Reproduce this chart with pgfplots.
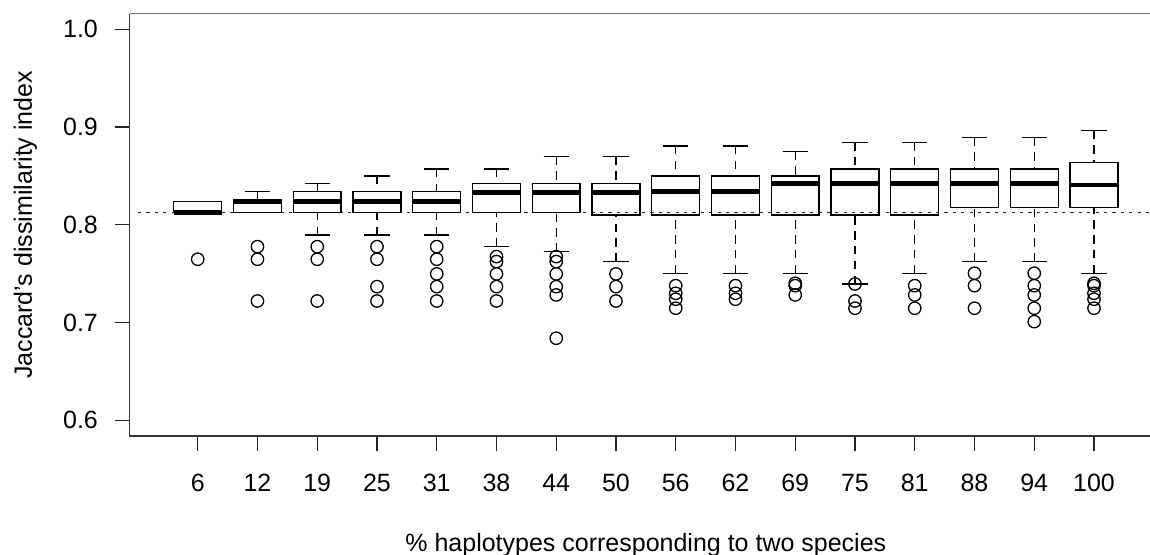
\documentclass[border=0pt]{standalone}
\usepackage{fontspec}
\setmainfont{Liberation Sans}
\usepackage{pgfplots}
\usepgfplotslibrary{statistics}
\pgfplotsset{compat=1.18}
\newcommand{\fsz}{\fontsize{12.5}{15}\selectfont}
\begin{document}
\begin{tikzpicture}[font=\fsz]
\useasboundingbox (0,0) rectangle (575pt,277.5pt);
\begin{axis}[
  at={(64.8pt,59.55pt)}, anchor=south west,
  scale only axis, width=516.25pt, height=211.15pt,
  xmin=-0.14, xmax=17.14, ymin=0.584, ymax=1.016,
  clip=false,
  axis line style={draw=none},
  tick pos=left, tick align=outside,
  major tick length=7.5pt,
  every tick/.style={black!85, line width=0.65pt},
  xtick={1,...,16},
  xticklabels={6,12,19,25,31,38,44,50,56,62,69,75,81,88,94,100},
  ytick={0.6,0.7,0.8,0.9,1.0},
  yticklabels={0.6,0.7,0.8,0.9,1.0},
  /pgf/number format/assume math mode=true,
  xticklabel style={font=\fsz, anchor=base, inner sep=0pt, yshift=-20.5pt},
  yticklabel style={font=\fsz, anchor=east, inner sep=0pt, xshift=-8.15pt},
  xlabel={\% haplotypes corresponding to two species},
  ylabel={Jaccard's dissimilarity index},
  every axis x label/.style={at={(axis description cs:0.5,0)}, anchor=base, yshift=-57.65pt, font=\fsz},
  every axis y label/.style={at={(axis description cs:0,0.5)}, xshift=-48.8pt, rotate=90, anchor=base, font=\fsz},
  bp/.style={
    black, line width=0.65pt, solid,
    mark=o, mark size=3.1pt, mark options={solid, line width=0.65pt},
    boxplot/draw direction=y,
    boxplot/box extend=0.8,
    boxplot/whisker extend=0.42,
    boxplot/every median/.style={line width=2.3pt},
    boxplot/draw/lower whisker/.code={%
      \draw[dash pattern=on 4.2pt off 3.2pt]
        (boxplot cs:\pgfplotsboxplotvalue{lower whisker}) --
        (boxplot cs:\pgfplotsboxplotvalue{lower quartile});
      \draw (boxplot whisker cs:\pgfplotsboxplotvalue{lower whisker},0) --
        (boxplot whisker cs:\pgfplotsboxplotvalue{lower whisker},1);
    },
    boxplot/draw/upper whisker/.code={%
      \draw[dash pattern=on 4.2pt off 3.2pt]
        (boxplot cs:\pgfplotsboxplotvalue{upper whisker}) --
        (boxplot cs:\pgfplotsboxplotvalue{upper quartile});
      \draw (boxplot whisker cs:\pgfplotsboxplotvalue{upper whisker},0) --
        (boxplot whisker cs:\pgfplotsboxplotvalue{upper whisker},1);
    },
  },
]
% axis frame (left, bottom dark; top light)
\draw[black!80, line width=0.8pt] (rel axis cs:0,1) -- (rel axis cs:0,0) -- (rel axis cs:1,0);
\draw[black!55, line width=0.55pt] (rel axis cs:0,1) -- (rel axis cs:1,1);
% reference line
\addplot[black!85, line width=0.75pt, dash pattern=on 1.6pt off 2.6pt] coordinates {(0,0.8124) (17.14,0.8124)};

\addplot[bp, boxplot prepared={draw position=1, lower whisker=0.8124, lower quartile=0.8124, median=0.8124, upper quartile=0.8236, upper whisker=0.8236}]
  coordinates {(1,0.7647)};
\addplot[bp, boxplot prepared={draw position=2, lower whisker=0.8124, lower quartile=0.8124, median=0.8236, upper quartile=0.8254, upper whisker=0.8339}]
  coordinates {(2,0.7776) (2,0.7647) (2,0.7220)};
\addplot[bp, boxplot prepared={draw position=3, lower whisker=0.7896, lower quartile=0.8124, median=0.8236, upper quartile=0.8339, upper whisker=0.8424}]
  coordinates {(3,0.7776) (3,0.7647) (3,0.7220)};
\addplot[bp, boxplot prepared={draw position=4, lower whisker=0.7896, lower quartile=0.8124, median=0.8236, upper quartile=0.8339, upper whisker=0.8499}]
  coordinates {(4,0.7776) (4,0.7647) (4,0.7367) (4,0.7220)};
\addplot[bp, boxplot prepared={draw position=5, lower whisker=0.7896, lower quartile=0.8124, median=0.8236, upper quartile=0.8339, upper whisker=0.8571}]
  coordinates {(5,0.7776) (5,0.7647) (5,0.7497) (5,0.7367) (5,0.7220)};
\addplot[bp, boxplot prepared={draw position=6, lower whisker=0.7776, lower quartile=0.8124, median=0.8332, upper quartile=0.8424, upper whisker=0.8571}]
  coordinates {(6,0.7674) (6,0.7623) (6,0.7497) (6,0.7367) (6,0.7220)};
\addplot[bp, boxplot prepared={draw position=7, lower whisker=0.7725, lower quartile=0.8124, median=0.8332, upper quartile=0.8424, upper whisker=0.8697}]
  coordinates {(7,0.7674) (7,0.7623) (7,0.7497) (7,0.7367) (7,0.7282) (7,0.6839)};
\addplot[bp, boxplot prepared={draw position=8, lower whisker=0.7623, lower quartile=0.8100, median=0.8332, upper quartile=0.8424, upper whisker=0.8697}]
  coordinates {(8,0.7497) (8,0.7367) (8,0.7220)};
\addplot[bp, boxplot prepared={draw position=9, lower whisker=0.7504, lower quartile=0.8100, median=0.8340, upper quartile=0.8499, upper whisker=0.8806}]
  coordinates {(9,0.7377) (9,0.7299) (9,0.7238) (9,0.7146)};
\addplot[bp, boxplot prepared={draw position=10, lower whisker=0.7504, lower quartile=0.8100, median=0.8340, upper quartile=0.8499, upper whisker=0.8806}]
  coordinates {(10,0.7377) (10,0.7299) (10,0.7238)};
\addplot[bp, boxplot prepared={draw position=11, lower whisker=0.7504, lower quartile=0.8100, median=0.8424, upper quartile=0.8499, upper whisker=0.8748}]
  coordinates {(11,0.7401) (11,0.7377) (11,0.7282)};
\addplot[bp, boxplot prepared={draw position=12, lower whisker=0.7394, lower quartile=0.8100, median=0.8424, upper quartile=0.8571, upper whisker=0.8844}]
  coordinates {(12,0.7394) (12,0.7220) (12,0.7146)};
\addplot[bp, boxplot prepared={draw position=13, lower whisker=0.7504, lower quartile=0.8100, median=0.8424, upper quartile=0.8571, upper whisker=0.8844}]
  coordinates {(13,0.7377) (13,0.7282) (13,0.7146)};
\addplot[bp, boxplot prepared={draw position=14, lower whisker=0.7623, lower quartile=0.8179, median=0.8424, upper quartile=0.8571, upper whisker=0.8891}]
  coordinates {(14,0.7504) (14,0.7377) (14,0.7146)};
\addplot[bp, boxplot prepared={draw position=15, lower whisker=0.7623, lower quartile=0.8179, median=0.8424, upper quartile=0.8571, upper whisker=0.8891}]
  coordinates {(15,0.7504) (15,0.7377) (15,0.7282) (15,0.7146) (15,0.7009)};
\addplot[bp, boxplot prepared={draw position=16, lower whisker=0.7504, lower quartile=0.8179, median=0.8407, upper quartile=0.8636, upper whisker=0.8963}]
  coordinates {(16,0.7401) (16,0.7377) (16,0.7299) (16,0.7238) (16,0.7146)};
\end{axis}
\end{tikzpicture}
\end{document}
